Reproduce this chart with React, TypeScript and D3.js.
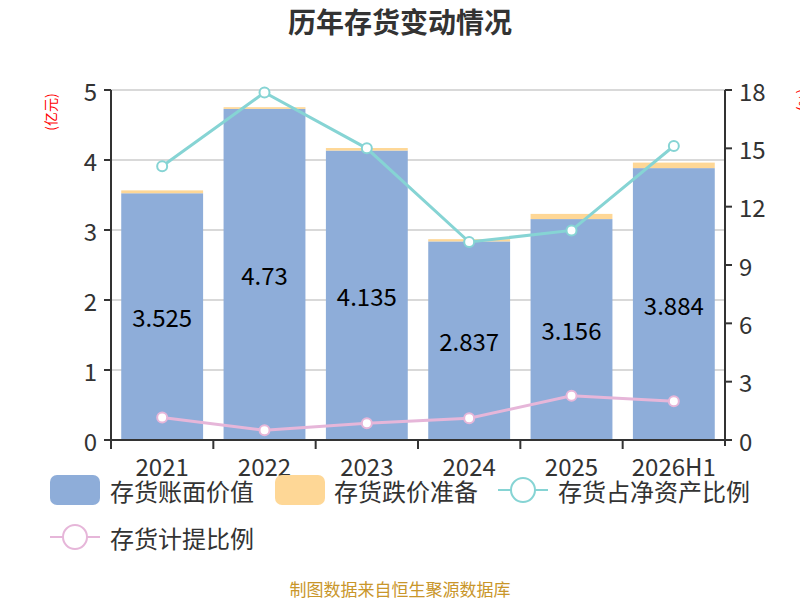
import * as d3 from 'd3'

const years = ['2021', '2022', '2023', '2024', '2025', '2026H1']
const bookValue = [3.525, 4.73, 4.135, 2.837, 3.156, 3.884]
const reserve = [0.041, 0.024, 0.036, 0.032, 0.074, 0.079]
const netAssetRatio = [14.08, 17.87, 15.0, 10.18, 10.78, 15.12]
const provisionRatio = [1.16, 0.5, 0.86, 1.12, 2.28, 1.99]
const leftTicks = [0, 1, 2, 3, 4, 5]
const rightTicks = [0, 3, 6, 9, 12, 15, 18]

const font = '"Noto Sans CJK SC", "Noto Sans", sans-serif'
const colBook = '#8eadd9'
const colReserve = '#fed796'
const colNet = '#86d4d4'
const colProv = '#e6b6d9'

const App = () => {
    const margin = { left: 111, right: 75, top: 90, bottom: 160 }
    const width = 800 - margin.left - margin.right
    const height = 600 - margin.top - margin.bottom

    const x = d3.scaleBand().domain(years).range([0, width]).paddingInner(0.2).paddingOuter(0.1)
    const band = width / years.length
    const xc = (y: string) => (x(y) as number) + x.bandwidth() / 2
    const yL = d3.scaleLinear().domain([0, 5]).range([height, 0])
    const yR = d3.scaleLinear().domain([0, 18]).range([height, 0])

    const ratioLine = d3.line<number>().x((_, i) => xc(years[i])).y(d => yR(d))

    return (
        <svg width={800} height={600} style={{ position: 'absolute', left: 0, top: 0, fontFamily: font }}>
            <text x={400} y={33} textAnchor="middle" fontSize={28} fontWeight="bold" fill="#333">历年存货变动情况</text>
            <text transform="translate(50,112) rotate(-90)" textAnchor="middle" fontSize={14} fill="red" dominantBaseline="central">(亿元)</text>
            <text transform="translate(805,100) rotate(90)" textAnchor="middle" fontSize={14} fill="red" dominantBaseline="central">(%)</text>
            <g transform={`translate(${margin.left},${margin.top})`}>
                {leftTicks.map(t => (
                    <line key={t} x1={0} x2={width} y1={yL(t)} y2={yL(t)} stroke="#ccc" strokeWidth={1.5} />
                ))}
                {years.map((y, i) => (
                    <g key={y}>
                        <rect x={x(y)} y={yL(bookValue[i])} width={x.bandwidth()} height={height - yL(bookValue[i])} fill={colBook} />
                        <rect x={x(y)} y={yL(bookValue[i] + reserve[i])} width={x.bandwidth()} height={yL(bookValue[i]) - yL(bookValue[i] + reserve[i])} fill={colReserve} />
                        <text x={xc(y)} y={(yL(bookValue[i]) + height) / 2} textAnchor="middle" dominantBaseline="central" fontSize={24} fill="#000">{bookValue[i]}</text>
                    </g>
                ))}
                <path d={ratioLine(netAssetRatio) as string} fill="none" stroke={colNet} strokeWidth={3} />
                {netAssetRatio.map((v, i) => (
                    <circle key={i} cx={xc(years[i])} cy={yR(v)} r={5} fill="#fff" stroke={colNet} strokeWidth={2} />
                ))}
                <path d={ratioLine(provisionRatio) as string} fill="none" stroke={colProv} strokeWidth={3} />
                {provisionRatio.map((v, i) => (
                    <circle key={i} cx={xc(years[i])} cy={yR(v)} r={5} fill="#fff" stroke={colProv} strokeWidth={2} />
                ))}
                {/* left axis */}
                <line x1={0} x2={0} y1={0} y2={height + 6} stroke="#333" strokeWidth={2} />
                {leftTicks.map(t => (
                    <g key={t}>
                        <line x1={-7} x2={0} y1={yL(t)} y2={yL(t)} stroke="#333" strokeWidth={2} />
                        <text x={-14} y={yL(t)} textAnchor="end" dominantBaseline="central" fontSize={24} fill="#333">{t}</text>
                    </g>
                ))}
                {/* right axis */}
                <line x1={width} x2={width} y1={0} y2={height + 6} stroke="#333" strokeWidth={2} />
                {rightTicks.map(t => (
                    <g key={t}>
                        <line x1={width} x2={width + 7} y1={yR(t)} y2={yR(t)} stroke="#333" strokeWidth={2} />
                        <text x={width + 14} y={yR(t)} textAnchor="start" dominantBaseline="central" fontSize={24} fill="#333">{t}</text>
                    </g>
                ))}
                {/* x axis */}
                <line x1={0} x2={width} y1={height} y2={height} stroke="#333" strokeWidth={2} />
                {years.map((y, i) => (
                    <g key={y}>
                        <line x1={i * band} x2={i * band} y1={height} y2={height + 9} stroke="#333" strokeWidth={2} />
                        <text x={xc(y)} y={height + 25} textAnchor="middle" dominantBaseline="central" fontSize={24} fill="#333">{y}</text>
                    </g>
                ))}
            </g>
            {/* legend */}
            <g fontSize={24} fill="#333">
                <rect x={50} y={475} width={50} height={30} rx={7} fill={colBook} />
                <text x={110} y={490} dominantBaseline="central" fill="#333">存货账面价值</text>
                <rect x={275} y={475} width={50} height={30} rx={7} fill={colReserve} />
                <text x={334} y={490} dominantBaseline="central" fill="#333">存货跌价准备</text>
                <line x1={498} x2={548} y1={490} y2={490} stroke={colNet} strokeWidth={2} />
                <circle cx={523} cy={490} r={12} fill="#fff" stroke={colNet} strokeWidth={2} />
                <text x={558} y={490} dominantBaseline="central" fill="#333">存货占净资产比例</text>
                <line x1={50} x2={100} y1={537} y2={537} stroke={colProv} strokeWidth={2} />
                <circle cx={75} cy={537} r={12} fill="#fff" stroke={colProv} strokeWidth={2} />
                <text x={110} y={537} dominantBaseline="central" fill="#333">存货计提比例</text>
            </g>
            <text x={400} y={596} textAnchor="middle" fontSize={17} fill="#c9962a">制图数据来自恒生聚源数据库</text>
        </svg>
    )
}

export default App
